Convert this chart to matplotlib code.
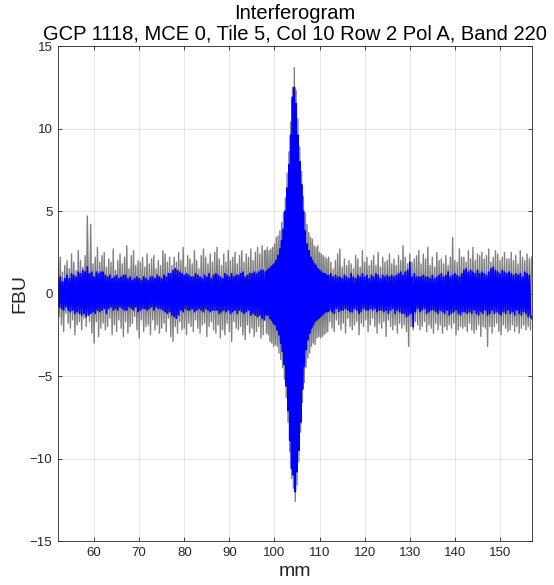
import numpy as np
import matplotlib.pyplot as plt

plt.rcParams['font.family'] = ['Liberation Sans', 'DejaVu Sans']

# Sample values, in three stretches of mm
# 52.0 - 97.75 mm, step 0.25
gray_a = [1.8, -1.4, 2.2, -1.9, 1.3, -2.3, 1.7, -1.2, 2.0, -1.8, 1.5, -2.1, 2.4, -1.6, 1.9, -2.5, 1.4, -1.9, 2.6, -1.7,
          2.0, -2.2, 1.6, -1.5, 2.3, -2.0, 4.7, 0.5, -1.7, 4.2, -2.4, 1.8, -3.0, 2.2, -1.7, 2.8, -2.6, 1.9, -2.1, 2.3,
          -1.8, 2.5, -2.2, 1.6, -2.0, 2.1, -1.5, 1.9, -2.5, 2.7, -1.9, 1.4, -2.3, 2.0, -1.6, 2.4, -2.1, 1.8, -2.6, 2.2,
          -1.7, 2.9, -2.4, 1.5, -2.0, 2.3, -1.8, 2.6, -1.4, 1.7, -2.2, 2.0, -2.7, 1.9, -1.6, 2.2, -2.3, 1.6, -2.0, 2.4,
          -1.9, 1.8, -2.5, 2.1, -1.6, 2.3, -2.2, 1.5, -1.9, 2.0, -2.4, 1.7, -2.1, 2.6, -1.8, 2.4, -2.3, 1.9, -1.5, 2.2,
          -2.6, 1.7, -2.9, 2.2, -2.0, 1.9, -2.4, 2.5, -1.7, 2.0, -2.2, 2.8, -2.1, 1.6, -2.5, 2.3, -1.8, 2.1, -2.0, 1.8,
          -2.3, 2.6, -1.6, 2.0, -2.1, 1.5, -2.4, 2.3, -1.9, 2.7, -1.8, 2.2, -2.6, 1.8, -2.0, 2.4, -1.7, 1.9, -2.2, 2.5,
          -2.4, 2.8, -1.9, 2.1, -2.7, 1.7, -2.2, 2.4, -2.5, 1.9, -1.8, 2.6, -2.3, 2.0, -2.9, 2.2, -1.7, 2.5, -2.1, 1.8,
          -2.2, 2.3, -2.0, 2.6, -2.5, 1.9, -2.8, 2.4, -1.9, 2.2, -2.4, 2.7, -2.1, 2.0, -2.6, 2.5, -2.3, 2.8, -2.0, 2.4,
          -2.7, 2.9, -2.5, 2.6]
blue_a = [0.9, -0.8, 1.0, -0.9, 0.7, -1.0, 0.9, -0.8, 1.1, -1.0, 0.9, -1.1, 1.2, -1.0, 1.1, -1.2, 1.0, -1.1, 1.3, -1.2,
          1.2, -1.3, 1.4, -1.2, 1.3, -1.4, 1.6, -1.3, 1.2, -1.2, 1.3, -1.1, 1.0, -1.2, 1.3, -1.0, 1.2, -1.1, 1.3, -1.0,
          1.3, -0.9, 1.1, -1.2, 1.0, -0.9, 1.1, -0.8, 0.9, -1.0, 1.0, -0.9, 1.1, -1.0, 0.9, -0.8, 1.0, -0.9, 1.1, -1.0,
          1.1, -1.0, 0.9, -0.8, 1.0, -0.9, 0.8, -1.0, 0.9, -0.8, 1.0, -1.1, 0.9, -1.0, 0.8, -0.9, 1.0, -0.9, 0.9, -1.0,
          0.8, -0.9, 1.0, -0.8, 1.0, -1.0, 0.9, -0.8, 1.1, -0.9, 1.0, -0.9, 0.9, -1.0, 1.1, -1.1, 1.0, -1.2, 1.2, -1.1,
          1.2, -1.3, 1.4, -1.4, 1.5, -1.5, 1.4, -1.3, 1.3, -1.0, 1.2, -1.1, 1.1, -0.9, 1.2, -1.0, 1.1, -1.0, 1.0, -0.9,
          1.0, -1.1, 1.2, -1.0, 1.1, -0.9, 1.0, -1.0, 0.9, -1.1, 1.1, -0.9, 1.0, -1.0, 1.2, -1.1, 0.9, -1.0, 1.1, -1.0,
          1.2, -1.0, 1.1, -1.2, 1.0, -1.1, 0.9, -1.0, 1.2, -1.1, 1.1, -1.0, 1.0, -1.2, 1.2, -1.1, 1.0, -1.0, 1.1, -1.2,
          1.1, -1.0, 1.2, -1.1, 1.3, -1.2, 1.0, -1.1, 1.1, -1.0, 1.2, -1.3, 1.2, -1.2, 1.3, -1.3, 1.2, -1.4, 1.3, -1.3,
          1.4, -1.5, 1.4, -1.6]

# 98.0 - 111.8 mm, step 0.2 (central fringe)
gray_b = [2.6, -2.4, 2.8, -2.5, 2.6, -2.9, 2.7, -3.0, 2.8, -3.2,
          3.0, -3.1, 3.4, -3.2, 3.5, -3.6, 3.8, -4.0, 4.3, -4.5,
          4.9, -5.2, 5.8, -6.3, 7.3, -7.8, 8.6, -9.6, 10.4, -11.2,
          12.5, -11.8, 13.7, -12.6, 12.3, -11.6, 10.6, -10.2, 8.9, -8.4,
          7.4, -6.6, 5.9, -5.4, 4.9, -4.5, 4.2, -3.9, 3.7, -3.6,
          3.4, -3.2, 3.3, -3.0, 2.9, -3.1, 2.8, -2.7, 2.9, -2.6,
          2.5, -2.7, 2.4, -2.6, 2.3, -2.5, 2.2, -2.4, 2.1, -2.3]
blue_b = [1.3, -1.3, 1.4, -1.3, 1.5, -1.5, 1.6, -1.6, 1.7, -1.8,
          1.8, -1.9, 2.0, -2.2, 2.3, -2.5, 2.7, -3.0, 3.2, -3.5,
          3.9, -4.3, 5.0, -5.6, 6.4, -7.1, 7.8, -8.9, 9.6, -10.6,
          11.9, -11.0, 12.5, -12.0, 11.5, -10.8, 9.6, -9.5, 8.0, -7.8,
          6.6, -5.8, 5.0, -4.4, 3.8, -3.4, 3.0, -2.8, 2.6, -2.4,
          2.2, -2.1, 2.0, -1.9, 1.8, -1.7, 1.7, -1.6, 1.5, -1.5,
          1.4, -1.4, 1.3, -1.3, 1.2, -1.2, 1.2, -1.1, 1.1, -1.1]

# 112.0 - 157.0 mm, step 0.25
gray_c = [2.2, -1.7, 1.9, -2.1, 1.5, -2.3, 2.0, -1.6, 2.4, -1.9, 2.7, -2.2, 1.6, -1.8, 2.1, -2.4, 1.7, -1.5, 2.0, -2.0,
          1.8, -2.2, 1.5, -1.9, 2.3, -1.7, 2.1, -2.5, 1.6, -1.8, 2.6, -2.0, 1.9, -1.6, 2.2, -2.3, 1.7, -1.9, 2.0, -1.5,
          2.3, -2.0, 1.7, -2.4, 2.5, -1.8, 1.6, -2.1, 2.2, -1.7, 1.9, -2.6, 2.0, -1.6, 2.4, -2.0, 1.8, -2.2, 2.1, -1.9,
          1.7, -2.4, 2.3, -1.8, 2.0, -2.1, 2.9, -1.9, 2.2, -2.3, 1.8, -3.2, 2.4, -2.0, 1.9, -2.2, 2.1, -1.7, 2.3, -1.9,
          2.6, -2.2, 1.8, -2.0, 2.4, -1.7, 2.1, -2.3, 2.8, -1.9, 1.7, -2.1, 2.2, -2.4, 1.6, -1.8, 2.5, -2.2, 2.0, -1.9,
          2.1, -2.4, 1.8, -2.0, 2.3, -2.2, 1.7, -1.9, 2.2, -2.1, 3.4, -1.8, 2.0, -2.5, 1.9, -2.2, 2.7, -2.0, 2.2, -2.1,
          2.2, -2.0, 1.9, -2.3, 2.6, -1.8, 2.1, -2.2, 2.8, -2.4, 2.0, -2.2, 2.4, -1.9, 2.3, -2.6, 2.5, -2.0, 2.1, -2.1,
          2.3, -3.2, 2.7, -2.0, 1.9, -2.4, 2.2, -2.0, 2.6, -1.8, 2.4, -2.3, 2.0, -2.5, 2.2, -1.9, 2.5, -2.1, 2.1, -2.3,
          2.1, -2.2, 2.5, -1.9, 2.0, -2.3, 2.3, -2.0, 1.8, -2.4, 2.6, -2.1, 2.2, -1.9, 2.0, -2.2, 2.4, -2.0, 2.1, -2.2,
          2.2]
blue_c = [1.1, -1.0, 1.2, -1.1, 1.0, -1.2, 1.1, -0.9, 1.0, -1.1, 1.0, -1.0, 0.9, -1.0, 1.1, -0.9, 1.0, -1.0, 0.9, -1.1,
          1.2, -1.1, 1.0, -0.9, 0.9, -1.0, 1.1, -1.2, 1.0, -1.1, 1.2, -0.9, 1.0, -1.0, 1.1, -1.0, 0.9, -0.9, 1.1, -1.0,
          1.0, -0.9, 1.2, -1.1, 1.1, -1.0, 0.9, -1.0, 1.1, -1.1, 1.0, -1.0, 1.1, -1.2, 1.0, -1.0, 1.1, -0.9, 1.0, -1.2,
          1.1, -1.0, 1.2, -1.1, 1.3, -1.2, 1.1, -1.2, 1.3, -1.4, 1.4, -1.3, 1.9, -1.2, 1.0, -2.0, 1.2, -1.1, 1.0, -0.9,
          1.0, -1.1, 1.0, -1.0, 1.1, -0.9, 1.0, -1.2, 1.0, -1.1, 0.9, -1.0, 1.1, -1.0, 0.9, -1.1, 1.0, -1.2, 1.1, -1.0,
          1.2, -1.1, 1.0, -1.2, 1.1, -1.0, 1.3, -1.3, 1.0, -1.2, 1.1, -1.1, 1.2, -1.0, 1.1, -1.2, 1.0, -1.3, 1.2, -1.1,
          1.4, -1.1, 1.5, -1.2, 1.3, -1.1, 1.4, -1.2, 1.3, -1.0, 1.2, -1.2, 1.4, -1.3, 1.2, -1.1, 1.3, -1.2, 1.2, -1.0,
          1.1, -1.3, 1.3, -1.2, 1.5, -1.0, 1.6, -1.2, 1.4, -1.1, 1.3, -1.2, 1.2, -1.3, 1.4, -1.1, 1.3, -1.2, 1.2, -1.0,
          1.3, -1.2, 1.2, -1.1, 1.1, -1.3, 1.2, -1.0, 1.1, -1.2, 1.2, -1.3, 1.0, -1.1, 1.3, -1.2, 1.2, -1.4, 1.1, -1.3,
          -1.5]

mm = np.concatenate([np.linspace(52.0, 97.75, len(gray_a)),
                     np.linspace(98.0, 111.8, len(gray_b)),
                     np.linspace(112.0, 157.0, len(gray_c))])
gray = np.array(gray_a + gray_b + gray_c)
blue = np.array(blue_a + blue_b + blue_c)

title = "Interferogram\nGCP 1118, MCE 0, Tile 5, Col 10 Row 2 Pol A, Band 220"
dark = (0.15, 0.15, 0.15)

fig = plt.figure(figsize=(5.54, 5.85), dpi=100)
ax = fig.add_axes([0.1047, 0.0752, 0.8556, 0.846])

ax.plot(mm, gray, color=(0.5, 0.5, 0.5), lw=1.0)
ax.plot(mm, blue, color=(0, 0, 1), lw=1.3)

ax.set_xlim(52.0, 157.1)
ax.set_ylim(-15, 15)
ax.set_xticks(np.arange(60, 151, 10))
ax.set_yticks(np.arange(-15, 16, 5))
ax.grid(True, color=dark, alpha=0.13, lw=0.6)
ax.tick_params(direction='in', length=3, width=0.6, colors=dark,
               labelsize=9.5, top=True, right=True, pad=4)
for s in ax.spines.values():
    s.set_color(dark)
    s.set_linewidth(0.6)

ax.set_xlabel("mm", fontsize=14, color=dark, labelpad=3)
ax.set_ylabel("FBU", fontsize=14, color=dark, labelpad=1)
ax.set_title(title, fontsize=14.5, linespacing=1.08, pad=5)

fig.savefig("out.png", dpi=100)
